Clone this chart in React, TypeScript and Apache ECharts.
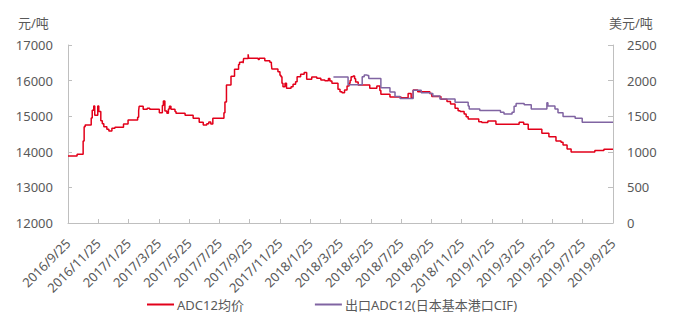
import React, { useEffect, useRef } from "react";
import * as echarts from "echarts";

// ADC12 均价 (元/吨) — change points (value holds until next date)
const redDates = [
  "2016/9/25", "2016/10/13", "2016/10/25", "2016/10/27", "2016/10/29", "2016/11/11", "2016/11/13",
  "2016/11/16", "2016/11/18", "2016/11/24", "2016/11/26", "2016/11/30", "2016/12/3", "2016/12/6",
  "2016/12/12", "2016/12/16", "2016/12/22", "2016/12/28", "2017/1/15", "2017/1/24", "2017/2/13",
  "2017/2/15", "2017/2/16", "2017/2/24", "2017/3/2", "2017/3/7", "2017/3/26", "2017/4/2",
  "2017/4/4", "2017/4/7", "2017/4/11", "2017/4/14", "2017/4/16", "2017/4/19", "2017/4/27",
  "2017/4/29", "2017/5/17", "2017/6/3", "2017/6/15", "2017/6/23", "2017/6/30", "2017/7/4",
  "2017/7/8", "2017/7/12", "2017/8/4", "2017/8/6", "2017/8/9", "2017/8/18", "2017/8/25",
  "2017/9/3", "2017/9/5", "2017/9/8", "2017/9/12", "2017/9/13", "2017/9/22", "2017/9/23",
  "2017/10/12", "2017/10/14", "2017/10/25", "2017/11/5", "2017/11/8", "2017/11/9", "2017/11/21",
  "2017/11/25", "2017/11/27", "2017/11/29", "2017/12/1", "2017/12/5", "2017/12/8", "2017/12/17",
  "2017/12/21", "2017/12/26", "2017/12/29", "2018/1/6", "2018/1/13", "2018/1/18", "2018/1/28",
  "2018/2/8", "2018/2/16", "2018/2/24", "2018/3/1", "2018/3/4", "2018/3/8", "2018/3/20",
  "2018/3/24", "2018/3/28", "2018/4/3", "2018/4/8", "2018/4/12", "2018/4/14", "2018/4/16",
  "2018/4/20", "2018/4/23", "2018/4/25", "2018/4/30", "2018/5/23", "2018/6/7", "2018/6/13",
  "2018/6/15", "2018/7/3", "2018/7/25", "2018/8/9", "2018/8/15", "2018/8/19", "2018/8/28",
  "2018/9/22", "2018/9/26", "2018/10/14", "2018/10/26", "2018/11/3", "2018/11/12", "2018/11/18",
  "2018/11/22", "2018/11/30", "2018/12/4", "2018/12/8", "2018/12/29", "2019/1/5", "2019/1/17",
  "2019/2/3", "2019/3/19", "2019/3/28", "2019/4/7", "2019/5/4", "2019/5/18", "2019/6/2",
  "2019/6/12", "2019/6/16", "2019/6/24", "2019/7/2", "2019/8/19", "2019/9/7", "2019/9/25",
];
const redValues = [
  13880, 13930, 14300, 14705, 14750, 14950, 15170,
  15290, 15025, 15290, 15130, 14875, 14790, 14705,
  14630, 14584, 14660, 14690, 14780, 14890, 14970,
  15150, 15280, 15195, 15220, 15195, 15100, 15300,
  15430, 15145, 15080, 15200, 15280, 15195, 15130,
  15080, 15025, 14940, 14830, 14750, 14790, 14840,
  14780, 14940, 15100, 15400, 15875, 16120, 16320,
  16450, 16515, 16530, 16490, 16620, 16740, 16625,
  16590, 16625, 16560, 16515, 16460, 16325, 16250,
  16150, 16110, 15925, 15830, 15925, 15785, 15830,
  15900, 15970, 16110, 16175, 16230, 16035, 16100,
  16065, 16015, 15995, 16060, 15990, 15925, 15755,
  15690, 15660, 15735, 15850, 15925, 16000, 16110,
  16130, 16050, 15960, 15875, 15785, 15850, 15720,
  15615, 15540, 15520, 15640, 15520, 15735, 15690,
  15640, 15550, 15475, 15410, 15345, 15220, 15155,
  15130, 15060, 14985, 14920, 14845, 14820, 14865,
  14775, 14830, 14775, 14630, 14520, 14425, 14305,
  14265, 14190, 14080, 13995, 14040, 14070, 14070,
];

// 出口ADC12(日本基本港口CIF) (美元/吨)
const purpleDates = [
  "2018/3/11", "2018/4/10", "2018/5/8", "2018/5/12", "2018/5/18", "2018/5/21", "2018/6/15",
  "2018/7/3", "2018/7/13", "2018/7/23", "2018/8/19", "2018/9/5", "2018/9/22", "2018/9/28",
  "2018/10/12", "2018/11/12", "2018/12/8", "2018/12/10", "2019/1/1", "2019/2/12", "2019/2/19",
  "2019/3/5", "2019/3/9", "2019/3/13", "2019/3/29", "2019/4/13", "2019/5/14", "2019/5/16",
  "2019/5/30", "2019/6/6", "2019/6/16", "2019/7/10", "2019/7/24", "2019/9/25",
];
const purpleValues = [
  2050, 1940, 2055, 2080, 2070, 2030, 1900,
  1840, 1775, 1750, 1865, 1830, 1820, 1785,
  1740, 1695, 1645, 1600, 1580, 1555, 1530,
  1555, 1640, 1680, 1660, 1600, 1690, 1645,
  1600, 1550, 1495, 1470, 1415, 1415,
];

const leftTicks = { min: 12000, max: 17000, interval: 1000 };
const rightTicks = { min: 0, max: 2500, interval: 500 };
const xRange = { min: 0, max: 36, interval: 2 }; // months since 2016/9/25

const seriesNames = ["ADC12均价", "出口ADC12(日本基本港口CIF)"];
const unitNames = ["元/吨", "美元/吨"];

function dateToMonths(s: string): number {
  const [y, m, d] = s.split("/").map(Number);
  return (y - 2016) * 12 + (m - 9) + (d - 25) / 30;
}
function monthsToLabel(v: number): string {
  const idx = 9 + Math.round(v) - 1;
  const y = 2016 + Math.floor(idx / 12);
  const m = (idx % 12) + 1;
  return `${y}/${m}/25`;
}

const FONT = "'Noto Sans', 'Noto Sans CJK SC', sans-serif";
const TXT = "#595959";
const AX = "#bfbfbf";

export default function App() {
  const ref = useRef<HTMLDivElement>(null);
  useEffect(() => {
    if (!ref.current) return;
    const chart = echarts.init(ref.current, undefined, { renderer: "svg" });
    const red = redDates.map((d, i) => [dateToMonths(d), redValues[i]]);
    const purple = purpleDates.map((d, i) => [dateToMonths(d), purpleValues[i]]);
    chart.setOption({
      animation: false,
      backgroundColor: "#ffffff",
      textStyle: { fontFamily: FONT },
      grid: { left: 68, right: 72, top: 45, bottom: 103 },
      graphic: [
        { type: "text", left: 18, top: 16, style: { text: unitNames[0], fill: TXT, font: `13px ${FONT}` } },
        { type: "text", left: 609, top: 16, style: { text: unitNames[1], fill: TXT, font: `13px ${FONT}` } },
      ],
      legend: {
        left: 147,
        top: 298,
        padding: 0,
        itemGap: 71,
        itemWidth: 27,
        itemHeight: 2,
        icon: "rect",
        textStyle: { color: TXT, fontSize: 13, fontFamily: FONT, padding: [0, 0, 0, -2] },
        data: seriesNames,
      },
      xAxis: {
        type: "value",
        min: xRange.min,
        max: xRange.max,
        interval: xRange.interval,
        axisLine: { show: true, lineStyle: { color: AX } },
        axisTick: { show: true, inside: true, length: 4, lineStyle: { color: AX } },
        splitLine: { show: false },
        axisLabel: {
          rotate: 45,
          margin: 18,
          color: TXT,
          fontSize: 13,
          fontFamily: FONT,
          formatter: (v: number) => monthsToLabel(v),
        },
      },
      yAxis: [
        {
          type: "value",
          ...leftTicks,
          axisLine: { show: true, lineStyle: { color: AX } },
          axisTick: { show: true, inside: true, length: 4, lineStyle: { color: AX } },
          splitLine: { show: false },
          axisLabel: { color: TXT, fontSize: 13, fontFamily: FONT, margin: 15, formatter: (v: number) => String(v) },
        },
        {
          type: "value",
          ...rightTicks,
          position: "right",
          axisLine: { show: true, lineStyle: { color: AX } },
          axisTick: { show: true, inside: true, length: 5, lineStyle: { color: AX } },
          splitLine: { show: false },
          axisLabel: { color: TXT, fontSize: 13, fontFamily: FONT, margin: 14, formatter: (v: number) => String(v) },
        },
      ],
      series: [
        {
          name: seriesNames[0],
          type: "line",
          yAxisIndex: 0,
          step: "end",
          showSymbol: false,
          data: red,
          color: "#e2001a",
          lineStyle: { width: 1.5, color: "#e2001a" },
        },
        {
          name: seriesNames[1],
          type: "line",
          yAxisIndex: 1,
          step: "end",
          showSymbol: false,
          data: purple,
          color: "#8064a2",
          lineStyle: { width: 1.5, color: "#8064a2" },
        },
      ],
    });
    return () => chart.dispose();
  }, []);
  return (
    <div
      ref={ref}
      style={{ position: "fixed", left: 0, top: 0, width: 685, height: 326 }}
    />
  );
}
